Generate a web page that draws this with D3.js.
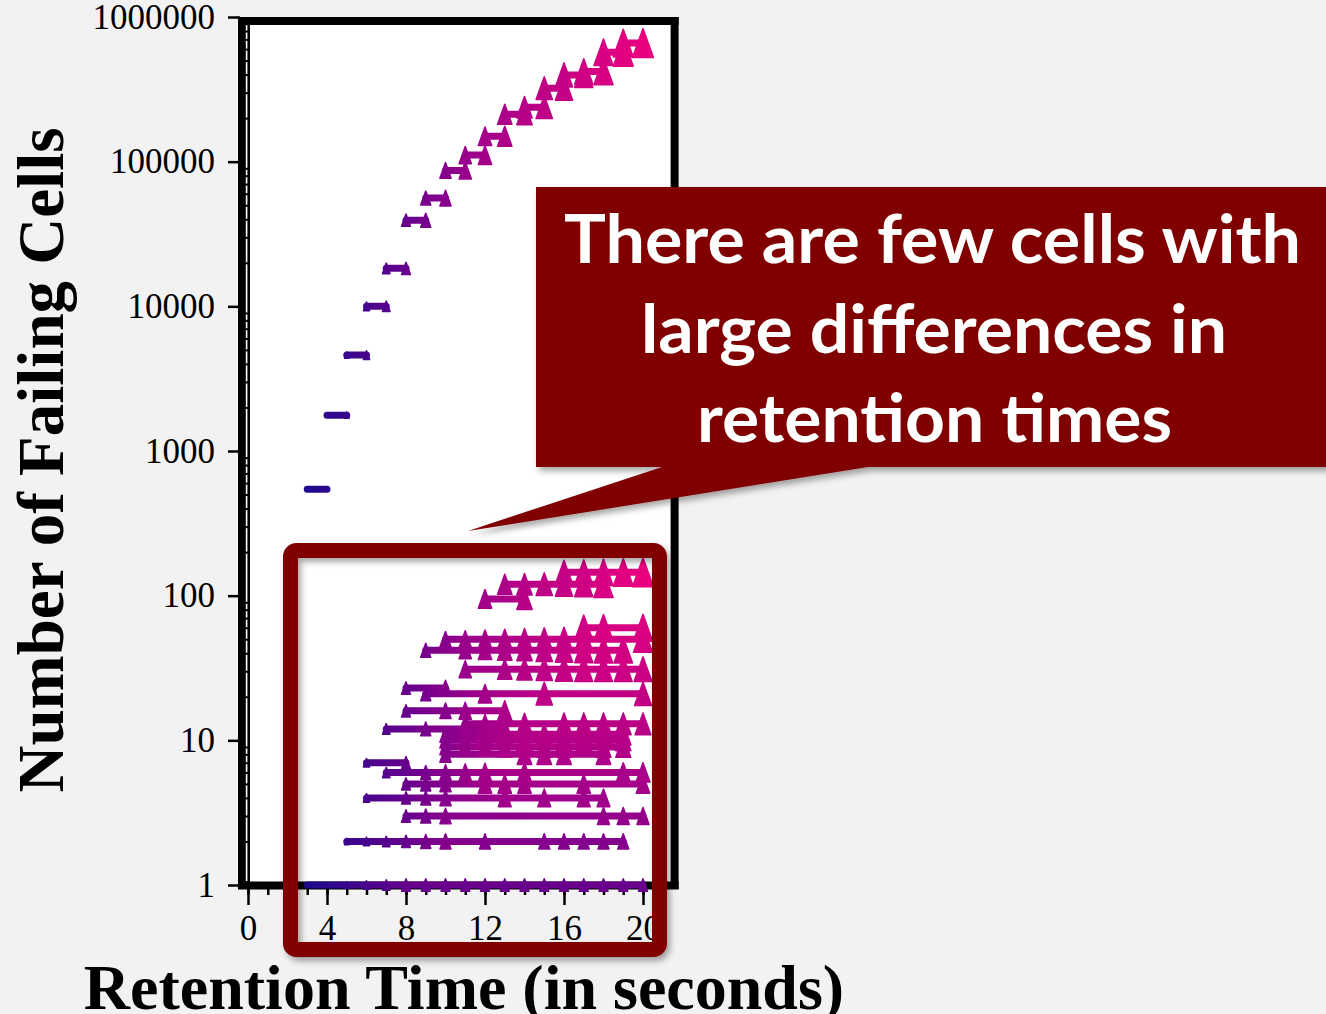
<!DOCTYPE html>
<html>
<head>
<meta charset="utf-8">
<script src="https://cdn.jsdelivr.net/npm/d3@7"></script>
<style>
  html, body { margin: 0; padding: 0; background: #f2f2f2; }
  svg { display: block; }
</style>
</head>
<body>
<svg id="chart" width="1326" height="1014"></svg>
<script>
// Failing DRAM cells grouped by count, drawn across the retention times
// (in seconds) at which each group was observed to fail.

// Upper curve: groups whose retention time moves by a single step
const stepStarts = [3, 4, 5, 6, 7, 8, 9, 10, 11, 12, 13, 14, 15, 16, 17, 18, 19];
const stepCounts = [545, 1770, 4600, 10000, 18300, 39400, 56000, 87000, 111000,
                    150000, 213000, 238000, 322000, 398000, 420000, 570000, 660000];

// Lower region: small groups with large retention-time differences
const rowCounts = [1, 2, 3, 4, 5, 6, 7, 8, 9, 10, 11, 12, 13, 16, 21, 23, 31, 42, 50, 60, 95, 120, 145];
const rowTimes = [
  [3, 4, 5, 6, 7, 8, 9, 10, 11, 12, 13, 14, 15, 16, 17, 18, 19, 20],
  [5, 6, 7, 8, 9, 10, 12, 15, 16, 17, 18, 19],
  [8, 9, 10, 18, 19, 20],
  [6, 8, 9, 10, 13, 15, 17, 18],
  [8, 9, 10, 12, 13, 14, 17, 20],
  [7, 9, 10, 11, 12, 14, 19, 20],
  [6, 8],
  [10, 14, 15, 16, 18],
  [10, 11, 12, 13, 15, 16, 18, 19],
  [10, 11, 12, 14, 16, 17, 19],
  [10, 12, 13, 15, 17, 18, 19],
  [7, 9, 13],
  [11, 12, 14, 16, 17, 18, 19, 20],
  [8, 10, 11, 13],
  [9, 12, 15, 20],
  [8, 10],
  [11, 13, 14, 15, 16, 17, 18, 19, 20],
  [9, 11, 12, 13, 14, 15, 16, 17, 18, 19],
  [10, 11, 12, 13, 14, 15, 16, 17, 20],
  [17, 18, 20],
  [12, 14],
  [13, 14, 15, 16, 17, 18],
  [16, 17, 18, 19, 20]
];

// Axis ticks
const xMajorTicks = [0, 4, 8, 12, 16, 20];
const yMajorTicks = [1, 10, 100, 1000, 10000, 100000, 1000000];

// Callout text
const noteLines = ["There are few cells with", "large differences in", "retention times"];

const svg = d3.select("#chart");
const serif = "'Liberation Serif', 'Times New Roman', serif";

const x = d3.scaleLinear().domain([0, 20]).range([248, 643]);
const y = d3.scaleLog().domain([1, 1e6]).range([885, 17]);
const xEnd = 21.55;

// Tone of a mark grows with retention time, limited by the size of the group
function tone(t, count) {
  const span = Math.max(0, Math.min(1, (t - 3) / 17));
  const cap = 0.3 + 0.7 * Math.min(1, Math.log10(count) / 2.1);
  return Math.min(span, cap);
}
const color = d3.scaleLinear()
  .domain([0, 0.25, 0.5, 1])
  .range(["#1c0a8c", "#5a008e", "#a0008b", "#e8007f"])
  .interpolate(d3.interpolateRgb);

const series = stepStarts.map((s, i) => ({ count: stepCounts[i], times: [s, s + 1] }))
  .concat(rowCounts.map((c, i) => ({ count: c, times: rowTimes[i] })));

const defs = svg.append("defs");
const shadow = defs.append("filter").attr("id", "shadow")
  .attr("x", "-10%").attr("y", "-10%").attr("width", "130%").attr("height", "130%");
shadow.append("feDropShadow").attr("dx", 3).attr("dy", 4).attr("stdDeviation", 3)
  .attr("flood-color", "#000").attr("flood-opacity", 0.35);

// ---- plot area ----
const pLeft = x(0), pRight = x(xEnd), pTop = y(1e6), pBottom = y(1);
svg.append("rect")
  .attr("x", pLeft).attr("y", pTop)
  .attr("width", pRight - pLeft).attr("height", pBottom - pTop)
  .attr("fill", "#fff");

// frame
const frame = svg.append("g").attr("stroke", "#000").attr("fill", "none");
frame.append("line").attr("x1", 238).attr("x2", pRight + 5).attr("y1", pTop + 4).attr("y2", pTop + 4).attr("stroke-width", 8);
frame.append("line").attr("x1", pRight + 1).attr("x2", pRight + 1).attr("y1", pTop).attr("y2", pBottom + 4).attr("stroke-width", 8);
frame.append("line").attr("x1", 238).attr("x2", pRight + 5).attr("y1", pBottom + 0.5).attr("y2", pBottom + 0.5).attr("stroke-width", 8);
svg.append("rect").attr("x", 238).attr("y", pTop).attr("width", 12).attr("height", pBottom + 4 - pTop).attr("fill", "#000");
svg.append("line").attr("x1", 246.6).attr("x2", 246.6).attr("y1", pTop + 8).attr("y2", pBottom - 4)
  .attr("stroke", "#fff").attr("stroke-width", 1.6);

// minor log ticks crossing the inner rule
const minorY = [];
for (let d = 1; d < 1e6; d *= 10) for (let k = 2; k <= 9; k++) minorY.push(d * k);
svg.append("g").attr("transform", `translate(244,0)`)
  .call(d3.axisRight(y).tickValues(minorY).tickSize(6).tickFormat(""))
  .call(g => g.select(".domain").remove())
  .call(g => g.selectAll(".tick line").attr("stroke", "#000").attr("stroke-width", 2));

// y axis
svg.append("g").attr("transform", "translate(240,0)")
  .call(d3.axisLeft(y).tickValues(yMajorTicks).tickSize(12).tickPadding(13).tickFormat(d3.format("d")))
  .call(g => g.select(".domain").remove())
  .call(g => g.selectAll(".tick line").attr("stroke", "#000").attr("stroke-width", 2.5))
  .call(g => g.selectAll(".tick text").attr("fill", "#000")
    .attr("font-family", serif).attr("font-size", 35));

// x axis: minor then major ticks
svg.append("g").attr("transform", `translate(0,${pBottom + 4})`)
  .call(d3.axisBottom(x).tickValues(d3.range(0, 22)).tickSize(6).tickFormat(""))
  .call(g => g.select(".domain").remove())
  .call(g => g.selectAll(".tick line").attr("stroke", "#000").attr("stroke-width", 2.5));
svg.append("g").attr("transform", `translate(0,${pBottom + 4})`)
  .call(d3.axisBottom(x).tickValues(xMajorTicks).tickSize(16).tickPadding(10))
  .call(g => g.select(".domain").remove())
  .call(g => g.selectAll(".tick line").attr("stroke", "#000").attr("stroke-width", 2.5))
  .call(g => g.selectAll(".tick text").attr("fill", "#000")
    .attr("font-family", serif).attr("font-size", 35));

// ---- marks ----
series.forEach((s, i) => {
  const lo = d3.min(s.times), hi = d3.max(s.times);
  const grad = defs.append("linearGradient").attr("id", "g" + i)
    .attr("gradientUnits", "userSpaceOnUse")
    .attr("x1", x(lo)).attr("x2", x(hi)).attr("y1", 0).attr("y2", 0);
  s.times.forEach(t => {
    grad.append("stop").attr("offset", (t - lo) / (hi - lo))
      .attr("stop-color", color(tone(t, s.count)));
  });
});

const lines = svg.append("g");
series.forEach((s, i) => {
  lines.append("line")
    .attr("x1", x(d3.min(s.times))).attr("x2", x(d3.max(s.times)))
    .attr("y1", y(s.count)).attr("y2", y(s.count))
    .attr("stroke", `url(#g${i})`).attr("stroke-width", 7).attr("stroke-linecap", "round");
});

const points = series.flatMap(s => s.times.map(t => ({ t, count: s.count, v: tone(t, s.count) })))
  .filter(p => p.v > 0.02);
svg.append("g").selectAll("path").data(points).join("path")
  .attr("transform", p => `translate(${x(p.t)},${y(p.count)})`)
  .attr("d", p => {
    const h = 29 * Math.pow(p.v, 0.7), w = 0.72 * h;
    return `M0,${-h / 2}L${w / 2},${h / 2}L${-w / 2},${h / 2}Z`;
  })
  .attr("fill", p => color(p.v))
  .attr("stroke", p => color(p.v))
  .attr("stroke-width", 1.5).attr("stroke-linejoin", "round");

// ---- axis titles ----
svg.append("text")
  .attr("transform", "translate(63,460) rotate(-90)")
  .attr("text-anchor", "middle")
  .attr("font-family", serif).attr("font-weight", "bold").attr("font-size", 65)
  .attr("fill", "#000")
  .text("Number of Failing Cells");
svg.append("text")
  .attr("x", 464).attr("y", 1009)
  .attr("text-anchor", "middle")
  .attr("font-family", serif).attr("font-weight", "bold").attr("font-size", 64)
  .attr("fill", "#000")
  .text("Retention Time (in seconds)");

// ---- highlight frame around the low-count region ----
svg.append("rect")
  .attr("x", 290.5).attr("y", 550.5).attr("width", 369).attr("height", 399)
  .attr("rx", 6)
  .attr("fill", "none").attr("stroke", "#800000").attr("stroke-width", 15)
  .attr("filter", "url(#shadow)");

// ---- callout ----
svg.append("path")
  .attr("d", "M536,187L1332,187L1332,467L868,467L468,531L662,467L536,467Z")
  .attr("fill", "#800000")
  .attr("filter", "url(#shadow)");

const noteX = [564, 641, 697];
const noteW = [737, 586, 475];
const noteY = [263, 353, 442];
svg.append("g").selectAll("text").data(noteLines).join("text")
  .attr("x", (d, i) => noteX[i]).attr("y", (d, i) => noteY[i])
  .attr("textLength", (d, i) => noteW[i])
  .attr("lengthAdjust", "spacingAndGlyphs")
  .attr("font-family", "Lato, 'Open Sans', sans-serif")
  .attr("font-weight", "bold").attr("font-size", 67)
  .attr("fill", "#fff")
  .text(d => d);
</script>
</body>
</html>
